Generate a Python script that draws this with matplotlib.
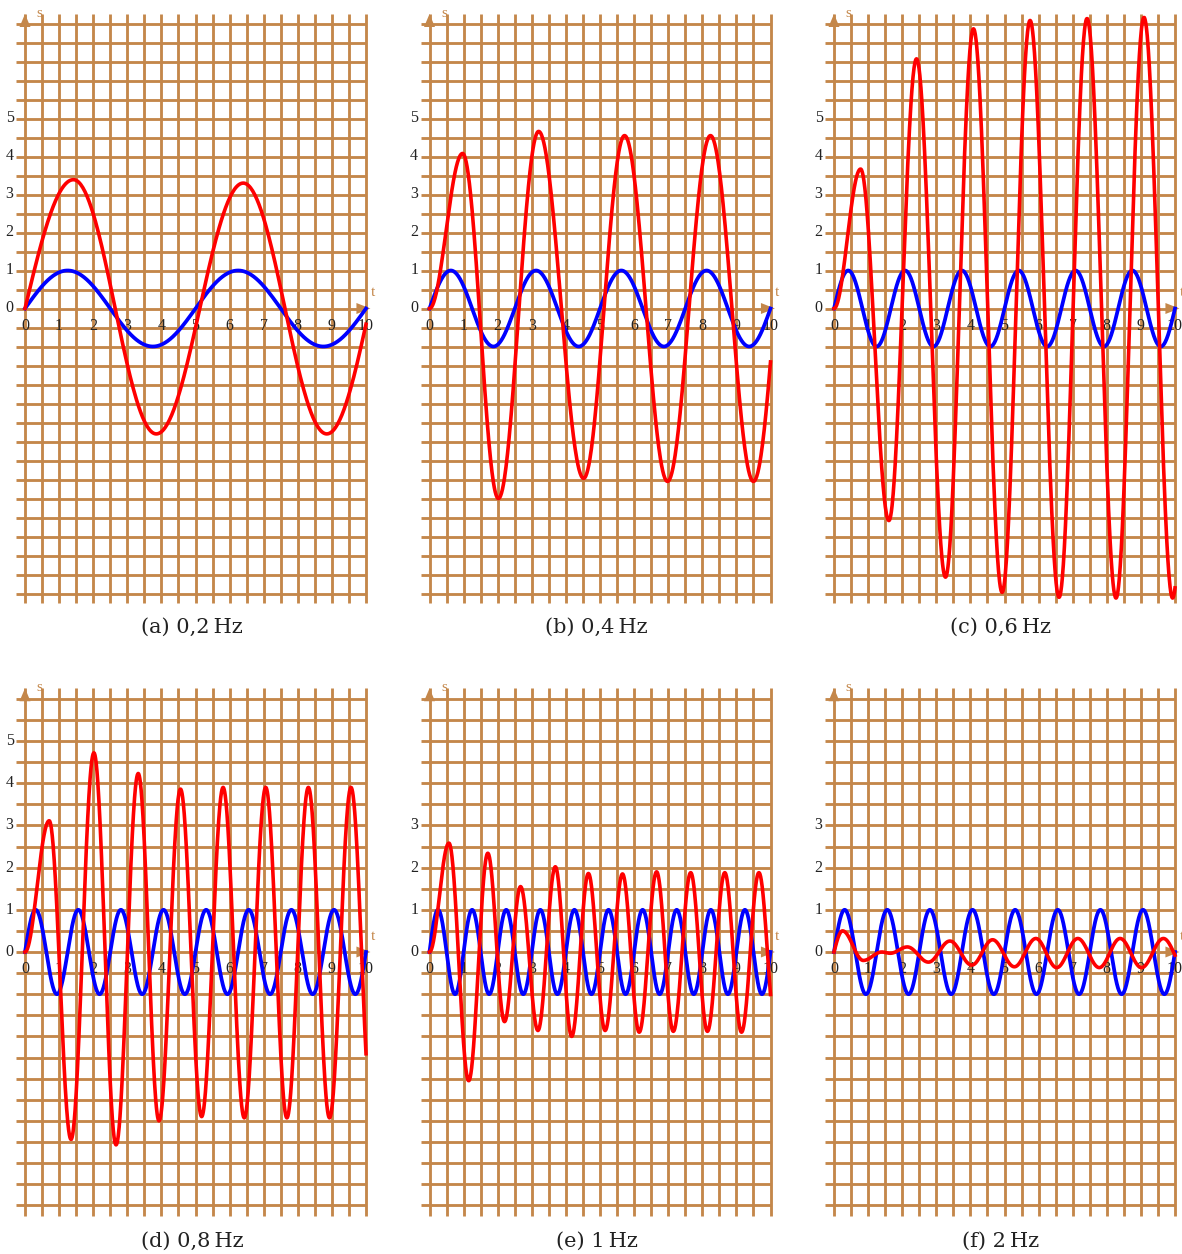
import numpy as np
import matplotlib
matplotlib.use('Agg')
import matplotlib.pyplot as plt
from matplotlib.patches import Polygon

# Panel captions
panel_letters = ['a', 'b', 'c', 'd', 'e', 'f']
caption_freq = ['0,2', '0,4', '0,6', '0,8', '1', '2']

# Frequency of the blue driving curve as drawn (panel f shows a 1.25 s period)
blue_freq = [0.2, 0.4, 0.6, 0.8, 1.0, 0.8]

# y tick labels per panel
y_ticks = [[0, 1, 2, 3, 4, 5]] * 4 + [[0, 1, 2, 3]] * 2

# Red curve: turning points (t, s); last point lies past t = 10
red_t_a = [0, 1.42, 3.85, 6.4, 8.85, 11.35]
red_y_a = [0, 3.39, -3.30, 3.30, -3.30, 3.30]

red_t_b = [0, 0.97, 2.02, 3.20, 4.52, 5.72, 6.98, 8.24, 9.50, 10.75]
red_y_b = [0, 4.08, -5.00, 4.66, -4.47, 4.55, -4.55, 4.55, -4.55, 4.55]

red_t_c = [0, 0.78, 1.61, 2.42, 3.27, 4.09, 4.93, 5.75, 6.60, 7.42, 8.27, 9.09, 9.93, 10.76]
red_y_c = [0, 3.67, -5.58, 6.57, -7.07, 7.36, -7.47, 7.58, -7.60, 7.63, -7.62, 7.66, -7.62, 7.66]

red_t_d = [0, 0.71, 1.35, 2.02, 2.67, 3.32, 3.93, 4.56, 5.18, 5.81, 6.43, 7.06, 7.68, 8.31, 8.93, 9.56, 10.18]
red_y_d = [0, 3.11, -4.44, 4.72, -4.57, 4.23, -4.00, 3.86, -3.90, 3.90, -3.93, 3.90, -3.93, 3.90, -3.93, 3.90, -3.93]

red_t_e = [0, 0.57, 1.15, 1.71, 2.20, 2.67, 3.18, 3.69, 4.17, 4.66, 5.15, 5.66, 6.15, 6.66, 7.15, 7.66, 8.15, 8.66, 9.15, 9.66, 10.16]
red_y_e = [0, 2.58, -3.05, 2.34, -1.65, 1.55, -1.86, 2.02, -2.00, 1.86, -1.86, 1.85, -1.90, 1.90, -1.88, 1.88, -1.88, 1.88, -1.90, 1.88, -1.88]

red_t_f = [0, 0.25, 0.86, 1.40, 1.65, 2.15, 2.77, 3.40, 4.04, 4.65, 5.29, 5.92, 6.53, 7.15, 7.78, 8.39, 9.02, 9.66, 10.28]
red_y_f = [0, 0.50, -0.20, 0.00, -0.03, 0.12, -0.24, 0.26, -0.31, 0.29, -0.35, 0.32, -0.37, 0.32, -0.37, 0.32, -0.37, 0.32, -0.37]

red_t = [red_t_a, red_t_b, red_t_c, red_t_d, red_t_e, red_t_f]
red_y = [red_y_a, red_y_b, red_y_c, red_y_d, red_y_e, red_y_f]
# does the red curve leave t = 0 horizontally?
red_flat_start = [False, True, True, True, True, False]

GRID = '#c4874a'
W, H = 1182, 1254

# pixel layout of every panel: origin x, origin y, px per unit in x / y, grid half height
col_x0 = [25, 429.5, 834]
row_y0 = [308.5, 952]
row_sy = [38.0, 42.2]
row_ymax = [7.5, 6.0]
row_cap = [627, 1241]
SX = 34.1


def smooth_through(tk, yk, flat_start, n=80):
    # smooth curve through the turning points (half cosine between them)
    ts, ys = [], []
    for i in range(len(tk) - 1):
        u = np.linspace(0, 1, n)
        if i == 0 and not flat_start:
            w = np.sin(u * np.pi / 2)
        else:
            w = (1 - np.cos(np.pi * u)) / 2
        ts.append(tk[i] + (tk[i + 1] - tk[i]) * u)
        ys.append(yk[i] + (yk[i + 1] - yk[i]) * w)
    t = np.concatenate(ts)
    y = np.concatenate(ys)
    y_end = np.interp(10, t, y)
    m = t < 10
    return np.append(t[m], 10), np.append(y[m], y_end)


fig = plt.figure(figsize=(W / 100, H / 100), dpi=100)
fig.patch.set_facecolor('white')

for k in range(6):
    row, col = divmod(k, 3)
    x0, y0, sy, ymax = col_x0[col], row_y0[row], row_sy[row], row_ymax[row]
    xlo, xhi = -1.0, 10.6
    ylo, yhi = -(ymax + 0.7), ymax + 0.7
    left = (x0 + xlo * SX) / W
    right = (x0 + xhi * SX) / W
    top = 1 - (y0 - yhi * sy) / H
    bottom = 1 - (y0 - ylo * sy) / H
    ax = fig.add_axes([left, bottom, right - left, top - bottom])
    ax.set_xlim(xlo, xhi)
    ax.set_ylim(ylo, yhi)
    ax.axis('off')

    # grid paper
    ext = 0.25
    for gx in np.arange(0, 10.01, 0.5):
        ax.plot([gx, gx], [-ymax - ext, ymax + ext], color=GRID, lw=2.05,
                solid_capstyle='butt', zorder=1)
    for gy in np.arange(-ymax, ymax + 0.01, 0.5):
        ax.plot([-ext, 10], [gy, gy], color=GRID, lw=2.05,
                solid_capstyle='butt', zorder=1)

    # arrow heads (sizes in pixels)
    hw_x = 5.5 / SX
    hw_y = 5.5 / sy
    tip_y = ymax + ext
    ax.add_patch(Polygon([[0, tip_y], [-hw_x, tip_y - 13 / sy], [hw_x, tip_y - 13 / sy]],
                         closed=True, color=GRID, zorder=2, lw=0))
    tip_x = 10.13
    ax.add_patch(Polygon([[tip_x, 0], [tip_x - 14 / SX, hw_y], [tip_x - 14 / SX, -hw_y]],
                         closed=True, color=GRID, zorder=2, lw=0))
    ax.text(0.42, ymax + 0.27, 's', color=GRID, fontsize=11, family='Liberation Serif',
            ha='center', va='center', zorder=2)
    ax.text(10.2, 16 / sy, 't', color=GRID, fontsize=11, family='Liberation Serif',
            ha='center', va='center', zorder=2)

    # tick labels
    for tx in range(11):
        ax.text(tx, -17 / sy, str(tx), fontsize=11.5, family='Liberation Serif',
                color='#222222', ha='center', va='center', zorder=2)
    for ty in y_ticks[k]:
        ax.text(-0.45, ty, str(ty), fontsize=11.5, family='Liberation Serif',
                color='#222222', ha='center', va='center', zorder=2)

    # driving signal (blue) and response (red)
    t = np.linspace(0, 10, 2000)
    ax.plot(t, np.sin(2 * np.pi * blue_freq[k] * t), color='#0000ff', lw=2.7,
            zorder=3, clip_on=False)
    rt, ry = smooth_through(red_t[k], red_y[k], red_flat_start[k])
    ax.plot(rt, ry, color='#ff0000', lw=2.6, zorder=4, clip_on=False)

    # caption below the panel
    fig.text((x0 + 167) / W, 1 - row_cap[row] / H,
             '(' + panel_letters[k] + ') ' + caption_freq[k] + '\u2009Hz',
             fontsize=15, family=['DejaVu Serif'], color='#222222',
             ha='center', va='center')

fig.savefig('out.png', dpi=100, facecolor='white')
